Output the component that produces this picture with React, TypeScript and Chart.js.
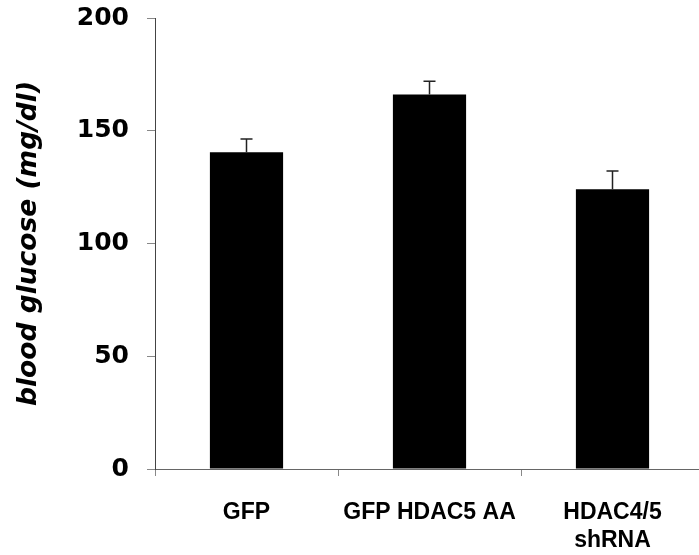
import React, { useEffect, useRef } from "react";
import { Chart, registerables } from "chart.js";

Chart.register(...registerables);

const categories: (string | string[])[] = ["GFP", "GFP HDAC5 AA", ["HDAC4/5", "shRNA"]];
const glucoseMeans = [140.5, 166.1, 124.1];
const glucoseErrors = [5.8, 5.8, 8.0];
const yTicks = [0, 50, 100, 150, 200];
const yTitle = "blood glucose (mg/dl)";

const errorBarPlugin = {
  id: "errorBars",
  afterDatasetsDraw(chart: any) {
    const ctx = chart.ctx;
    const meta = chart.getDatasetMeta(0);
    const yScale = chart.scales.y;
    ctx.save();
    ctx.strokeStyle = "#222";
    ctx.lineWidth = 1.5;
    meta.data.forEach((bar: any, i: number) => {
      const x = bar.x;
      const yTop = yScale.getPixelForValue(glucoseMeans[i]);
      const yErr = yScale.getPixelForValue(glucoseMeans[i] + glucoseErrors[i]);
      ctx.beginPath();
      ctx.moveTo(x, yTop);
      ctx.lineTo(x, yErr);
      ctx.moveTo(x - 6, yErr);
      ctx.lineTo(x + 6, yErr);
      ctx.stroke();
    });
    ctx.restore();
  },
};

export default function App() {
  const ref = useRef<HTMLCanvasElement | null>(null);
  useEffect(() => {
    if (!ref.current) return;
    const chart = new Chart(ref.current, {
      type: "bar",
      data: {
        labels: categories,
        datasets: [
          {
            data: glucoseMeans,
            backgroundColor: "#000",
            borderColor: "#000",
            borderWidth: 0,
            barPercentage: 0.4,
            categoryPercentage: 1,
          },
        ],
      },
      options: {
        responsive: false,
        animation: false,
        layout: { padding: { top: 18, left: 0, right: 0, bottom: 0 } },
        plugins: { legend: { display: false }, tooltip: { enabled: false } },
        scales: {
          x: {
            grid: {
              display: true,
              drawOnChartArea: false,
              drawTicks: true,
              tickLength: 7,
              color: "#888",
              offset: true,
            },
            border: { display: true, color: "#666", width: 1 },
            ticks: {
              color: "#000",
              padding: 23,
              maxRotation: 0,
              autoSkip: false,
              font: { family: "'Liberation Sans', Arial, sans-serif", size: 23, weight: "bold" },
            },
            afterFit(scale: any) {
              scale.height = 86;
              scale.paddingLeft = 0;
              scale.paddingRight = 0;
            },
          },
          y: {
            min: 0,
            max: 200,
            afterBuildTicks(scale: any) {
              scale.ticks = yTicks.map((v) => ({ value: v }));
            },
            grid: {
              display: true,
              drawOnChartArea: false,
              drawTicks: true,
              tickLength: 8,
              color: "#888",
            },
            border: { display: true, color: "#444", width: 1 },
            ticks: {
              color: "#000",
              padding: 18,
              font: { family: "'DejaVu Sans', Verdana, sans-serif", size: 25, weight: "bold" },
            },
            title: {
              display: true,
              text: yTitle,
              color: "#000",
              padding: { top: 13, bottom: 0 },
              font: { family: "'DejaVu Sans', Verdana, sans-serif", size: 26.5, weight: "bold", style: "italic" },
            },
            afterFit(scale: any) {
              scale.width = 155;
              scale.paddingTop = 0;
              scale.paddingBottom = 0;
            },
          },
        },
      },
      plugins: [errorBarPlugin],
    });
    return () => chart.destroy();
  }, []);
  return (
    <div style={{ position: "absolute", left: 0, top: 0, width: 699, height: 555, overflow: "hidden", background: "#fff" }}>
      <canvas ref={ref} width={704} height={555} style={{ display: "block" }} />
    </div>
  );
}
